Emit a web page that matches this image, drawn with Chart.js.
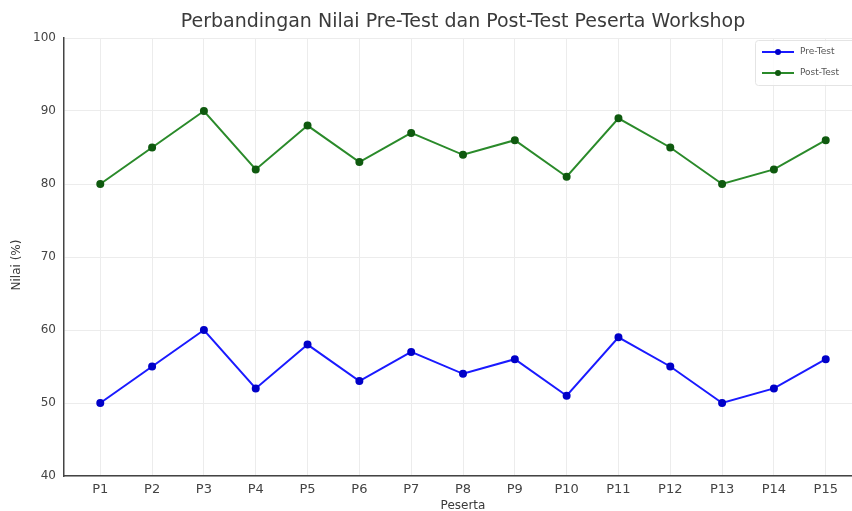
<!DOCTYPE html>
<html>
<head>
<meta charset="utf-8">
<script src="https://cdn.jsdelivr.net/npm/chart.js@4.4.1/dist/chart.umd.min.js"></script>
<style>
  html,body{margin:0;padding:0;background:#fff;overflow:hidden;}
  #wrap{width:880px;height:511px;position:relative;}
</style>
</head>
<body>
<div id="wrap"><canvas id="chart" width="880" height="511"></canvas></div>
<script>
// data
const peserta = ["P1","P2","P3","P4","P5","P6","P7","P8","P9","P10","P11","P12","P13","P14","P15"];
const preTest = [50,55,60,52,58,53,57,54,56,51,59,55,50,52,56];
const postTest = [80,85,90,82,88,83,87,84,86,81,89,85,80,82,86];
const yTicks = [40,50,60,70,80,90,100];

const FONT = "'DejaVu Sans', sans-serif";
const toPoints = arr => arr.map((v,i) => ({x:i, y:v}));

// title, axis titles and a matplotlib-ish legend
const decor = {
  id:'decor',
  afterDraw(chart){
    const {ctx, chartArea:a} = chart;
    ctx.save();
    ctx.fillStyle = '#3a3a3a';
    ctx.font = '19px ' + FONT;
    ctx.textAlign = 'center';
    ctx.textBaseline = 'middle';
    ctx.fillText('Perbandingan Nilai Pre-Test dan Post-Test Peserta Workshop', (a.left+a.right)/2, 22);

    ctx.font = '12px ' + FONT;
    ctx.fillText('Peserta', (a.left+a.right)/2, 506);
    ctx.translate(17, 265);
    ctx.rotate(-Math.PI/2);
    ctx.fillText('Nilai (%)', 0, 0);
    ctx.restore();

    // legend box
    ctx.save();
    const bx = 755, by = 40, bw = 130, bh = 45;
    ctx.fillStyle = 'rgba(255,255,255,0.85)';
    ctx.strokeStyle = '#e4e4e4';
    ctx.lineWidth = 1;
    ctx.beginPath();
    ctx.roundRect(bx+0.5, by+0.5, bw, bh, 3);
    ctx.fill(); ctx.stroke();
    chart.data.datasets.forEach((ds, i) => {
      const y = by + 12 + i*21;
      ctx.strokeStyle = ds.borderColor;
      ctx.lineWidth = 2;
      ctx.beginPath(); ctx.moveTo(762, y); ctx.lineTo(794, y); ctx.stroke();
      ctx.fillStyle = ds.pointBackgroundColor;
      ctx.beginPath(); ctx.arc(778, y, 3, 0, Math.PI*2); ctx.fill();
      ctx.fillStyle = '#555';
      ctx.font = '9px ' + FONT;
      ctx.textAlign = 'left';
      ctx.textBaseline = 'middle';
      ctx.fillText(ds.label, 800, y);
    });
    ctx.restore();
  }
};

new Chart(document.getElementById('chart'), {
  type:'line',
  data:{
    datasets:[
      {label:'Pre-Test', data:toPoints(preTest), borderColor:'#1a1aff', backgroundColor:'#1a1aff',
        pointBackgroundColor:'#0000c8', pointBorderColor:'#0000c8', pointRadius:3, borderWidth:2, tension:0},
      {label:'Post-Test', data:toPoints(postTest), borderColor:'#2a8a2a', backgroundColor:'#2a8a2a',
        pointBackgroundColor:'#0f5a0f', pointBorderColor:'#0f5a0f', pointRadius:3, borderWidth:2, tension:0}
    ]
  },
  options:{
    responsive:false,
    animation:false,
    devicePixelRatio:1,
    layout:{padding:{left:0, top:38, right:18, bottom:0}},
    plugins:{legend:{display:false}, title:{display:false}, tooltip:{enabled:false}},
    scales:{
      x:{
        type:'linear', min:-0.7, max:14.7,
        afterBuildTicks: s => { s.ticks = peserta.map((_,i)=>({value:i})); },
        afterFit: s => { s.height = 35; },
        ticks:{callback:v => peserta[v], color:'#444', font:{family:FONT, size:13}, padding:6, autoSkip:false, maxRotation:0},
        grid:{color:'#ececec', drawTicks:false},
        border:{color:'#444', width:1.5}
      },
      y:{
        min:40, max:100,
        afterBuildTicks: s => { s.ticks = yTicks.map(v=>({value:v})); },
        afterFit: s => { s.width = 64; },
        ticks:{color:'#444', font:{family:FONT, size:12}, padding:8},
        grid:{color:'#ececec', drawTicks:false},
        border:{color:'#444', width:1.5}
      }
    }
  },
  plugins:[decor]
});
</script>
</body>
</html>
